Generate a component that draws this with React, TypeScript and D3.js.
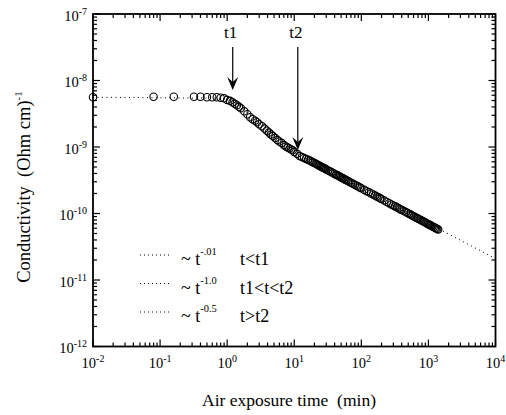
import React from "react";
import * as d3 from "d3";

// measured conductivity vs air exposure time
const timeMin = [
  0.01, 0.08, 0.16, 0.32, 0.4, 0.5, 0.6, 0.7, 0.8, 0.9,
  1.0, 1.1, 1.2, 1.3, 1.4, 1.5, 1.6, 1.8, 2.0, 2.2, 2.4, 2.6, 2.8, 3.0, 3.3, 3.6, 3.9,
  4.2, 4.5, 4.8, 5.2, 5.6, 6.0, 6.5, 7.0, 7.5, 8.0, 8.5, 9.0, 9.5, 10, 11, 12,
  13, 14, 15, 16, 17, 18, 19, 20, 21, 22, 23, 24, 25, 26, 27, 28, 29, 30, 32, 34, 36, 38,
  40, 42, 44, 46, 48, 50, 52, 54, 56, 58, 60, 63, 66, 70, 75, 80, 85, 90, 95,
  100, 110, 120, 130, 140, 150, 160, 170, 180, 190,
  200, 220, 240, 260, 280, 300, 320, 340, 360, 380, 400, 430, 460, 490, 520, 550,
  580, 610, 640, 670, 700, 740, 780, 820, 860, 900, 940, 980, 1020, 1060, 1100,
  1150, 1200, 1250, 1300, 1350, 1400,
];
const conductivity = [
  5.6e-9, 5.7e-9, 5.7e-9, 5.7e-9, 5.7e-9, 5.6e-9, 5.6e-9, 5.6e-9, 5.5e-9, 5.4e-9,
  5.1e-9, 4.94e-9, 4.7e-9, 4.46e-9, 4.24e-9, 4.02e-9, 3.82e-9, 3.44e-9, 3.11e-9, 2.8e-9,
  2.62e-9, 2.49e-9, 2.36e-9, 2.2e-9, 2.06e-9, 1.89e-9, 1.76e-9,
  1.65e-9, 1.54e-9, 1.46e-9, 1.36e-9, 1.27e-9, 1.21e-9, 1.15e-9, 1.07e-9, 1.02e-9,
  9.8e-10, 9.5e-10, 9.2e-10, 8.9e-10, 8.4e-10, 7.9e-10, 7.3e-10,
  7.1e-10, 6.84e-10, 6.62e-10, 6.43e-10, 6.25e-10, 6.07e-10, 5.89e-10, 5.73e-10, 5.58e-10,
  5.44e-10, 5.31e-10, 5.19e-10, 5.08e-10, 4.97e-10, 4.87e-10, 4.78e-10, 4.69e-10, 4.6e-10,
  4.45e-10, 4.31e-10, 4.17e-10, 4.05e-10,
  3.94e-10, 3.84e-10, 3.75e-10, 3.66e-10, 3.57e-10, 3.49e-10, 3.42e-10, 3.35e-10, 3.28e-10,
  3.22e-10, 3.16e-10, 3.08e-10, 3.0e-10, 2.91e-10, 2.81e-10, 2.71e-10, 2.62e-10, 2.54e-10,
  2.47e-10,
  2.4e-10, 2.28e-10, 2.17e-10, 2.08e-10, 2.0e-10, 1.93e-10, 1.86e-10, 1.8e-10, 1.75e-10,
  1.69e-10,
  1.65e-10, 1.57e-10, 1.49e-10, 1.43e-10, 1.37e-10, 1.32e-10, 1.28e-10, 1.24e-10, 1.2e-10,
  1.16e-10, 1.13e-10, 1.09e-10, 1.05e-10, 1.02e-10, 9.84e-11, 9.55e-11,
  9.27e-11, 9.02e-11, 8.79e-11, 8.57e-11, 8.38e-11, 8.13e-11, 7.91e-11, 7.69e-11, 7.5e-11,
  7.31e-11, 7.14e-11, 6.98e-11, 6.83e-11, 6.69e-11, 6.55e-11,
  6.4e-11, 6.25e-11, 6.12e-11, 5.99e-11, 5.87e-11, 5.75e-11,
];

// dotted power-law fits (start / end of each segment)
const fitTime = [[0.01, 1.2], [1.2, 12], [12, 1e4]];
const fitCond = [[5.6e-9, 5.4e-9], [5.0e-9, 7.3e-10], [7.3e-10, 2.1e-11]];

// legend
const legendExp = ["-.01", "-1.0", "-0.5"];
const legendRange = ["t<t1", "t1<t<t2", "t>t2"];

// arrows
const arrowLabel = ["t1", "t2"];
const arrowTime = [1.21, 11.3];
const arrowTip = [7.2e-9, 9.0e-10];
const arrowTail = 3.2e-8;
const arrowText = 4.35e-8;

const xTickExp = [-2, -1, 0, 1, 2, 3, 4];
const yTickExp = [-12, -11, -10, -9, -8, -7];

export default function App() {
  const left = 93, right = 495.5, top = 14, bottom = 346.5;

  const x = d3.scaleLog().domain([1e-2, 1e4]).range([left, right]);
  const y = d3.scaleLog().domain([1e-12, 1e-7]).range([bottom, top]);

  const isMajor = (v: number) => Math.abs(Math.log10(v) - Math.round(Math.log10(v))) < 1e-6;
  const xTicks = x.ticks();
  const yTicks = y.ticks();
  const major = 7, minor = 4;

  const line = d3.line<[number, number]>().x((d) => x(d[0])).y((d) => y(d[1]));
  const tf = { fontFamily: "serif" };

  return (
    <svg width={506} height={415} style={{ position: "absolute", left: 0, top: 0, background: "#fff", fontFamily: "serif" }}>
      {/* ticks */}
      <g stroke="#000" strokeWidth={1.2}>
        {xTicks.map((t, i) => {
          const len = isMajor(t) ? major : minor;
          return (
            <g key={"xt" + i}>
              <line x1={x(t)} x2={x(t)} y1={bottom} y2={bottom - len} />
              <line x1={x(t)} x2={x(t)} y1={top} y2={top + len} />
            </g>
          );
        })}
        {yTicks.map((t, i) => {
          const len = isMajor(t) ? major : minor;
          return (
            <g key={"yt" + i}>
              <line x1={left} x2={left + len} y1={y(t)} y2={y(t)} />
              <line x1={right} x2={right - len} y1={y(t)} y2={y(t)} />
            </g>
          );
        })}
      </g>
      <rect x={left} y={top} width={right - left} height={bottom - top} fill="none" stroke="#000" strokeWidth={1.8} />

      {/* tick labels */}
      {xTickExp.map((e) => (
        <text key={"xl" + e} style={tf} x={x(Math.pow(10, e))} y={368} fontSize={14.5} textAnchor="middle">
          10<tspan dy={-6} fontSize={10}>{e}</tspan>
        </text>
      ))}
      {yTickExp.map((e) => (
        <text key={"yl" + e} style={tf} x={87} y={y(Math.pow(10, e)) + 6.5} fontSize={14.5} textAnchor="end">
          10<tspan dy={-6} fontSize={10}>{e}</tspan>
        </text>
      ))}

      {/* axis titles */}
      <text style={tf} x={289} y={406} fontSize={17.5} textAnchor="middle" xmlSpace="preserve">
        Air exposure time  (min)
      </text>
      <text style={tf} transform="translate(30,187) rotate(-90)" fontSize={18.5} textAnchor="middle" xmlSpace="preserve">
        Conductivity  (Ohm cm)<tspan dy={-8} fontSize={11}>-1</tspan>
      </text>

      {/* fits */}
      {fitTime.map((ts, i) => (
        <path
          key={"fit" + i}
          d={line([[ts[0], fitCond[i][0]], [ts[1], fitCond[i][1]]]) || ""}
          fill="none"
          stroke="#000"
          strokeWidth={1}
          strokeDasharray="1,3.5"
        />
      ))}

      {/* data (open circles) */}
      <g fill="none" stroke="#000" strokeWidth={1.1}>
        {timeMin.map((t, i) => (
          <circle key={"p" + i} cx={x(t)} cy={y(conductivity[i])} r={3.7} />
        ))}
      </g>

      {/* arrows */}
      {arrowLabel.map((lab, i) => {
        const ax = x(arrowTime[i]);
        const tipY = y(arrowTip[i]);
        return (
          <g key={"ar" + i}>
            <text style={tf} x={ax - 2} y={y(arrowText)} fontSize={17} textAnchor="middle">{lab}</text>
            <line x1={ax} x2={ax} y1={y(arrowTail)} y2={tipY - 6} stroke="#000" strokeWidth={1.2} />
            <path d={`M${ax},${tipY} L${ax - 5.5},${tipY - 13} L${ax},${tipY - 8} L${ax + 5.5},${tipY - 13} Z`} fill="#000" />
          </g>
        );
      })}

      {/* legend */}
      {legendExp.map((e, i) => {
        const base = 265 + i * 28.5;
        return (
          <g key={"lg" + i}>
            <line x1={140} x2={171} y1={base - 10} y2={base - 10} stroke="#000" strokeWidth={1} strokeDasharray="1,3" />
            <text style={tf} x={181} y={base} fontSize={18}>
              ~ t<tspan dy={-10} fontSize={10.5}>{e}</tspan>
            </text>
            <text style={tf} x={240} y={base} fontSize={18}>{legendRange[i]}</text>
          </g>
        );
      })}
    </svg>
  );
}
